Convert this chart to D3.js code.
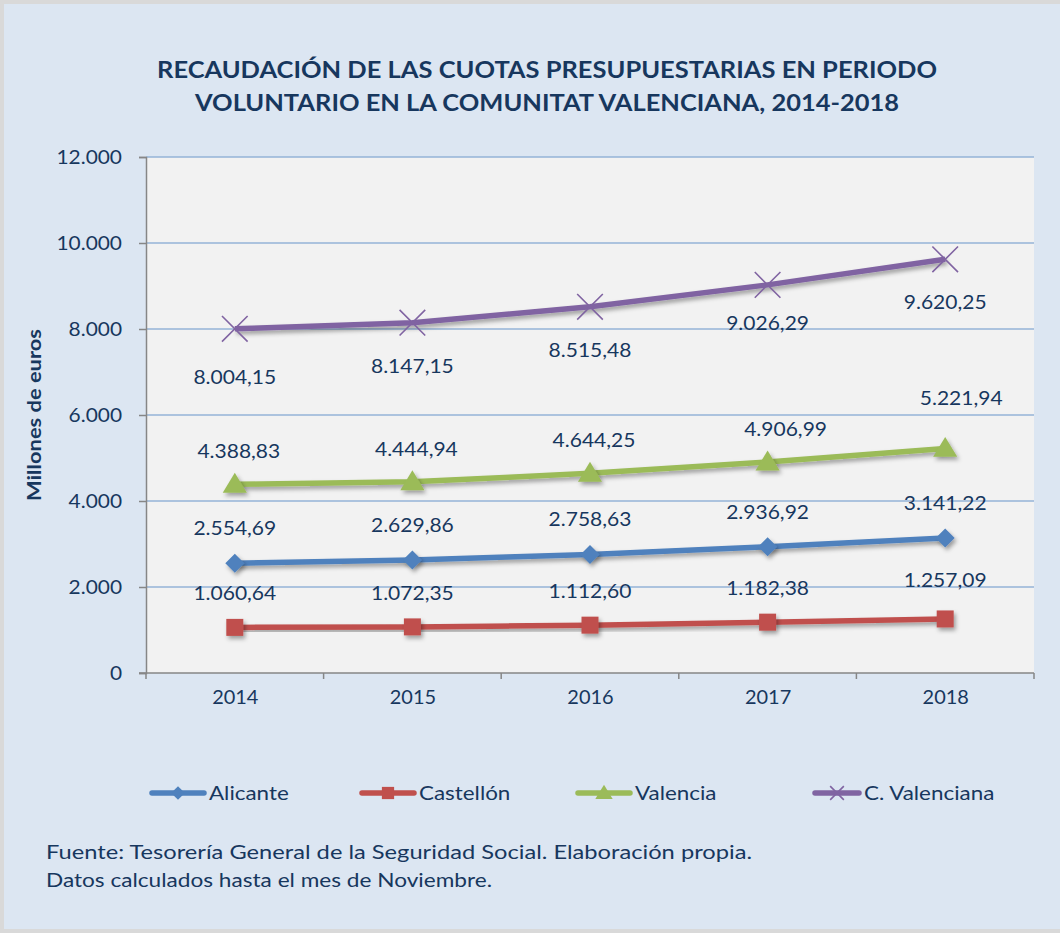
<!DOCTYPE html>
<html><head><meta charset="utf-8">
<script src="https://cdn.jsdelivr.net/npm/d3@7"></script>
<style>body{margin:0;background:#fff}svg{display:block}</style>
</head><body>
<script>
const years = ["2014","2015","2016","2017","2018"];
const alicante = [2554.69, 2629.86, 2758.63, 2936.92, 3141.22];
const castellon = [1060.64, 1072.35, 1112.60, 1182.38, 1257.09];
const valencia = [4388.83, 4444.94, 4644.25, 4906.99, 5221.94];
const cValenciana = [8004.15, 8147.15, 8515.48, 9026.29, 9620.25];
const yTicks = [0, 2000, 4000, 6000, 8000, 10000, 12000];
const seriesNames = ["Alicante", "Castellón", "Valencia", "C. Valenciana"];
const titleLines = ["RECAUDACIÓN DE LAS CUOTAS PRESUPUESTARIAS EN PERIODO", "VOLUNTARIO EN LA COMUNITAT VALENCIANA, 2014-2018"];
const yTitle = "Millones de euros";
const notes = ["Fuente: Tesorería General de la Seguridad Social. Elaboración propia.", "Datos calculados hasta el mes de Noviembre."];

const series = [
  {name: seriesNames[0], values: alicante, color: "#4f81bd", marker: "diamond", dy: -35},
  {name: seriesNames[1], values: castellon, color: "#c0504d", marker: "square", dy: -34},
  {name: seriesNames[2], values: valencia, color: "#9bbb59", marker: "triangle", dy: -33},
  {name: seriesNames[3], values: cValenciana, color: "#8064a2", marker: "x", dy: 43}
];

const W = 1060, H = 933;
const navy = "#17375e";
const fmt = v => {
  const s = v.toFixed(2).split(".");
  return s[0].replace(/\B(?=(\d{3})+(?!\d))/g, ".") + "," + s[1];
};
const fmtTick = v => String(v).replace(/\B(?=(\d{3})+(?!\d))/g, ".");
function stretch(sel, k) {
  sel.each(function () {
    const w = this.getComputedTextLength();
    d3.select(this).attr("textLength", w * k).attr("lengthAdjust", "spacingAndGlyphs");
  });
}

const svg = d3.select("body").append("svg").attr("width", W).attr("height", H)
  .style("font-family", "Lato, 'Open Sans', sans-serif");

const defs = svg.append("defs");
const f = defs.append("filter").attr("id", "sh").attr("x", "-10%").attr("y", "-50%").attr("width", "120%").attr("height", "200%");
f.append("feDropShadow").attr("dx", 2).attr("dy", 3).attr("stdDeviation", 2).attr("flood-color", "#000").attr("flood-opacity", 0.35);

// outer background
svg.append("rect").attr("x", 0).attr("y", 0).attr("width", W).attr("height", H).attr("fill", "#d9d9d9");
svg.append("rect").attr("x", 4).attr("y", 4).attr("width", W - 4).attr("height", H - 8).attr("fill", "#dce6f2");

// title
titleLines.forEach((t, i) => {
  svg.append("text").attr("x", 547).attr("y", 78 + i * 33).attr("text-anchor", "middle")
    .attr("font-size", 23).attr("font-weight", "bold").attr("fill", navy)
    .attr("textLength", i === 0 ? 780 : 704).attr("lengthAdjust", "spacingAndGlyphs")
    .text(t);
});

const L = 146, R = 1034, T = 157, B = 673;
const x = d3.scalePoint().domain(years).range([L, R]).padding(0.5);
const xb = d3.scaleBand().domain(years).range([L, R]);
const y = d3.scaleLinear().domain([0, 12000]).range([B, T]);

// plot bg
svg.append("rect").attr("x", L).attr("y", T).attr("width", R - L).attr("height", B - T).attr("fill", "#f2f2f2");

// gridlines
svg.append("g").selectAll("line").data(yTicks.filter(d => d > 0)).join("line")
  .attr("x1", L).attr("x2", R).attr("y1", d => y(d)).attr("y2", d => y(d))
  .attr("stroke", "#95b3d7").attr("stroke-width", 1.5);

// y axis
const yAxis = svg.append("g").attr("transform", `translate(${L},0)`)
  .call(d3.axisLeft(y).tickValues(yTicks).tickFormat(fmtTick).tickSize(7).tickPadding(17));
yAxis.select(".domain").attr("stroke", "#868686").attr("stroke-width", 1.5);
yAxis.selectAll(".tick line").attr("stroke", "#868686").attr("stroke-width", 1.5);
yAxis.selectAll("text").attr("fill", navy).attr("font-size", 19).attr("font-family", "Lato, sans-serif");
stretch(yAxis.selectAll("text"), 1.1);

// x axis
const xAxis = svg.append("g").attr("transform", `translate(0,${B})`)
  .call(d3.axisBottom(x).tickSize(0).tickPadding(18));
xAxis.select(".domain").remove();
xAxis.selectAll("text").attr("fill", navy).attr("font-size", 19).attr("font-family", "Lato, sans-serif");
stretch(xAxis.selectAll("text"), 1.05);
svg.append("line").attr("x1", L - 7).attr("x2", R).attr("y1", B).attr("y2", B).attr("stroke", "#868686").attr("stroke-width", 1.5);
svg.append("g").selectAll("line").data(years.concat(["end"])).join("line")
  .attr("x1", (d, i) => L + i * xb.bandwidth()).attr("x2", (d, i) => L + i * xb.bandwidth())
  .attr("y1", B).attr("y2", B + 6).attr("stroke", "#868686").attr("stroke-width", 1.5);

// y title
svg.append("text").attr("transform", "translate(41,415) rotate(-90)").attr("text-anchor", "middle")
  .attr("font-size", 19).attr("font-weight", "bold").attr("fill", navy)
  .attr("textLength", 172).attr("lengthAdjust", "spacingAndGlyphs").text(yTitle);

function drawMarker(g, type, color, cx, cy, scale) {
  const s = scale || 1;
  if (type === "diamond") {
    const r = 9.5 * s;
    g.append("path").attr("d", `M${cx},${cy - r}L${cx + r},${cy}L${cx},${cy + r}L${cx - r},${cy}Z`).attr("fill", color);
  } else if (type === "square") {
    const r = 8.5 * s;
    g.append("rect").attr("x", cx - r).attr("y", cy - r).attr("width", 2 * r).attr("height", 2 * r).attr("fill", color);
  } else if (type === "triangle") {
    const r = 10.5 * s;
    g.append("path").attr("d", `M${cx},${cy - r * 1.1}L${cx + r * 1.15},${cy + r * 0.8}L${cx - r * 1.15},${cy + r * 0.8}Z`).attr("fill", color);
  } else {
    const r = 9.5 * s;
    g.append("path").attr("d", `M${cx - r},${cy - r}L${cx + r},${cy + r}M${cx - r},${cy + r}L${cx + r},${cy - r}`)
      .attr("stroke", color).attr("stroke-width", 1.6).attr("fill", "none");
  }
}

const line = d3.line().x((d, i) => x(years[i])).y(d => y(d));
const labelNudge = {"Valencia-2018": [12, -17], "Valencia-2017": [14, 0], "Castellón-2018": [0, -5], "C. Valenciana-2014": [0, 5], "C. Valenciana-2017": [0, -5]};

series.forEach(s => {
  const g = svg.append("g");
  g.append("path").datum(s.values).attr("d", line).attr("fill", "none")
    .attr("stroke", s.color).attr("stroke-width", 5.5).attr("stroke-linejoin", "round").attr("filter", "url(#sh)");
  const mg = g.append("g").attr("filter", s.marker === "x" ? null : "url(#sh)");
  s.values.forEach((v, i) => drawMarker(mg, s.marker, s.color, x(years[i]), y(v), s.marker === "x" ? 1.35 : 1));
});

series.forEach(s => {
  s.values.forEach((v, i) => {
    const n = labelNudge[s.name + "-" + years[i]] || [0, 0];
    const t = svg.append("text").attr("x", x(years[i]) + (s.name === "Valencia" ? 4 : 0) + n[0])
      .attr("y", y(v) + s.dy + n[1]).attr("dy", "0.35em").attr("text-anchor", "middle")
      .attr("font-size", 20).attr("fill", navy).text(fmt(v));
    stretch(t, 1.05);
  });
});

// legend
const legX = [152, 362, 578, 815];
const legY = 793;
series.forEach((s, i) => {
  const g = svg.append("g");
  const x0 = legX[i], x1 = legX[i] + (i === 3 ? 44 : 52);
  g.append("line").attr("x1", x0).attr("x2", x1).attr("y1", legY).attr("y2", legY)
    .attr("stroke", s.color).attr("stroke-width", 5.5).attr("stroke-linecap", "round");
  drawMarker(g, s.marker, s.color, (x0 + x1) / 2, legY, 0.72);
  const t = g.append("text").attr("x", x1 + 5).attr("y", legY).attr("dy", "0.35em")
    .attr("font-size", 20).attr("fill", navy).text(s.name);
  stretch(t, 1.12);
});

// notes
notes.forEach((t, i) => {
  svg.append("text").attr("x", 46).attr("y", 853 + i * 28).attr("dy", "0.35em")
    .attr("font-size", 18.5).attr("fill", navy)
    .attr("textLength", i === 0 ? 706 : 446).attr("lengthAdjust", "spacingAndGlyphs")
    .text(t);
});
</script>
</body></html>
